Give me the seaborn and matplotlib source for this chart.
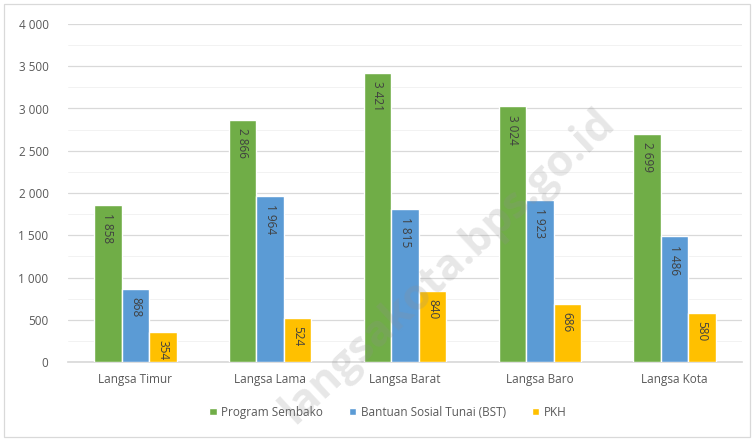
import matplotlib
matplotlib.use("Agg")
import matplotlib.pyplot as plt
import seaborn as sns
import pandas as pd
import numpy as np
from matplotlib.ticker import FuncFormatter, MultipleLocator
from matplotlib.patches import Rectangle

categories = ["Langsa Timur", "Langsa Lama", "Langsa Barat", "Langsa Baro", "Langsa Kota"]
series_names = ["Program Sembako", "Bantuan Sosial Tunai (BST)", "PKH"]
sembako = [1858, 2866, 3421, 3024, 2699]
bst = [868, 1964, 1815, 1923, 1486]
pkh = [354, 524, 840, 686, 580]
colors = ["#70AD47", "#5B9BD5", "#FFC000"]

df = pd.DataFrame({
    "Kecamatan": categories * 3,
    "Program": [series_names[0]] * 5 + [series_names[1]] * 5 + [series_names[2]] * 5,
    "Nilai": sembako + bst + pkh,
})

sns.set_theme(style="white")
plt.rcParams["font.family"] = ["Open Sans", "DejaVu Sans"]
text_color = "#595959"

fig = plt.figure(figsize=(7.54, 4.40), dpi=100)
ax = fig.add_axes([68 / 754, 1 - 362 / 440, (742 - 68) / 754, (362 - 24) / 440])

sns.barplot(data=df, x="Kecamatan", y="Nilai", hue="Program", palette=colors,
            width=0.61, gap=0, saturation=1, ax=ax, zorder=3, legend=True)

ax.set_ylim(0, 4000)
ax.yaxis.set_major_locator(MultipleLocator(500))
ax.yaxis.set_minor_locator(MultipleLocator(250))
ax.yaxis.set_major_formatter(FuncFormatter(lambda v, p: f"{int(v):,}".replace(",", " ")))
ax.grid(axis="y", which="major", color="#D9D9D9", linewidth=0.9, zorder=0)
ax.grid(axis="y", which="minor", color="#F0F0F0", linewidth=0.6, zorder=0)
ax.set_axisbelow(True)
for s in ["top", "right", "left"]:
    ax.spines[s].set_visible(False)
ax.spines["bottom"].set_color("#D9D9D9")
ax.set_xlabel("")
ax.set_ylabel("")
ax.tick_params(axis="both", which="both", length=0, colors=text_color, labelsize=8.5)
ax.tick_params(axis="y", pad=14)
ax.tick_params(axis="x", pad=8)
for lbl in ax.get_yticklabels() + ax.get_xticklabels():
    lbl.set_color(text_color)

for cont in ax.containers:
    for bar, v in zip(cont, cont.datavalues):
        x = bar.get_x() + bar.get_width() / 2
        ax.annotate(f"{int(v):,}".replace(",", " "), xy=(x, v), xytext=(0, -6),
                    textcoords="offset points", rotation=270, ha="center", va="top",
                    fontsize=8.5, color="#404040", zorder=5)

handles, labs = ax.get_legend_handles_labels()
ax.legend_.remove()
fig.legend(handles, labs, loc="center", bbox_to_anchor=(388 / 754, 1 - 412 / 440), ncol=3,
           frameon=False, fontsize=8.5, handlelength=0.6, handleheight=0.6,
           handletextpad=0.4, columnspacing=2.2, labelcolor=text_color)

fig.patches.append(Rectangle((4 / 754, 3 / 440), 746 / 754, 433 / 440, transform=fig.transFigure,
                             fill=False, edgecolor="#D9D9D9", linewidth=0.9))

fig.text(448 / 754, 1 - 266 / 440, "langsakota.bps.go.id", rotation=43, ha="center", va="center",
         fontsize=31, fontweight="bold", color="#909090", alpha=0.22, zorder=10)

fig.savefig("out.png", dpi=100)
